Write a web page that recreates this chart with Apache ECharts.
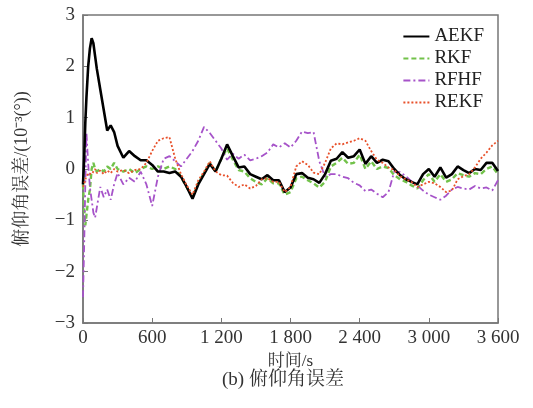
<!DOCTYPE html>
<html><head><meta charset="utf-8">
<script src="https://cdn.jsdelivr.net/npm/echarts@6/dist/echarts.min.js"></script>
<style>html,body{margin:0;padding:0;background:#fff}#c{width:533px;height:408px}</style>
</head><body><div id="c"></div>
<script>
const times = [0,10,20,30,45,60,75,90,105,120,150,180,210,240,270,
  300,350,400,450,500,550,600,650,700,750,800,850,900,950,1000,1050,1100,1150,1200,1250,
  1300,1350,1400,1450,1500,1550,1600,1650,1700,1750,1800,1850,1900,1950,2000,2050,2100,2150,
  2200,2250,2300,2350,2400,2450,2500,2550,2600,2650,2700,2750,2800,2850,2900,2950,3000,3050,
  3100,3150,3200,3250,3300,3350,3400,3450,3500,3550,3600];

const aekf = [-0.3,0.2,0.9,1.4,2.0,2.35,2.55,2.45,2.2,1.95,1.55,1.15,0.75,0.85,0.72,
  0.45,0.22,0.35,0.25,0.17,0.17,0.08,-0.05,-0.05,-0.08,-0.05,-0.15,-0.35,-0.58,-0.3,-0.1,0.1,-0.05,0.2,0.48,
  0.25,0.03,0.05,-0.1,-0.15,-0.2,-0.12,-0.22,-0.22,-0.45,-0.36,-0.1,-0.08,-0.17,-0.2,-0.27,-0.1,0.16,
  0.2,0.33,0.22,0.25,0.38,0.1,0.25,0.12,0.18,0.15,0,-0.12,-0.2,-0.25,-0.3,-0.1,0.0,-0.15,
  0.03,-0.17,-0.1,0.05,-0.02,-0.08,0,-0.02,0.12,0.12,-0.04];

const rkf = [-0.3,-0.8,-1.1,-0.9,-0.6,-0.4,0.0,0.12,0.0,-0.05,0.0,-0.05,0.05,0.0,0.12,
  0.0,-0.05,0.0,-0.08,0.0,0.05,0.0,0.05,0.0,0.05,0.0,-0.15,-0.36,-0.55,-0.28,-0.08,0.12,-0.05,0.2,0.4,
  0.18,-0.02,-0.05,-0.18,-0.25,-0.3,-0.18,-0.28,-0.28,-0.5,-0.45,-0.18,-0.15,-0.22,-0.28,-0.36,-0.25,0.05,
  0.12,0.22,0.1,0.12,0.28,0.0,0.15,0.0,0.05,0.02,-0.12,-0.2,-0.25,-0.32,-0.38,-0.22,-0.1,-0.25,
  -0.1,-0.25,-0.2,-0.08,-0.12,-0.15,-0.08,-0.1,0.0,0.05,-0.1];

const rfhf = [-2.5,-1.5,-0.3,0.7,0.1,-0.36,-0.6,-0.85,-0.95,-0.75,-0.35,-0.55,-0.4,-0.6,-0.3,
  -0.08,-0.3,-0.17,-0.25,-0.05,-0.3,-0.72,-0.15,0.2,0.25,0.15,0.05,0.2,0.35,0.55,0.82,0.7,0.55,0.4,0.18,
  0.3,0.2,0.28,0.17,0.2,0.25,0.32,0.48,0.42,0.5,0.42,0.55,0.73,0.7,0.72,0.15,-0.15,-0.1,
  -0.1,-0.15,-0.18,-0.27,-0.32,-0.43,-0.4,-0.48,-0.55,-0.45,-0.05,-0.06,-0.14,-0.24,-0.32,-0.42,-0.5,-0.55,
  -0.6,-0.52,-0.4,-0.35,-0.38,-0.4,-0.33,-0.38,-0.36,-0.42,-0.22];

const rekf = [-0.35,-0.3,-0.2,-0.15,-0.08,-0.05,-0.1,-0.05,0.0,-0.08,-0.03,-0.1,-0.03,-0.08,0.0,
  -0.05,-0.02,-0.08,-0.02,0.0,0.12,0.35,0.55,0.6,0.62,0.2,-0.1,-0.32,-0.5,-0.22,-0.05,0.15,-0.05,-0.12,-0.13,
  -0.27,-0.35,-0.3,-0.38,-0.33,-0.2,-0.18,-0.25,-0.25,-0.45,-0.35,0.05,0.15,0.08,-0.07,-0.1,0.12,0.4,
  0.5,0.48,0.52,0.55,0.6,0.55,0.35,0.18,0.12,0.03,-0.02,-0.14,-0.2,-0.25,-0.35,-0.3,-0.25,-0.28,
  -0.35,-0.45,-0.42,-0.2,-0.14,-0.1,0.03,0.2,0.32,0.46,0.55];

const seriesNames = ['AEKF','RKF','RFHF','REKF'];
const xName = '时间/s';
const yName = '俯仰角误差/(10⁻³(°))';
const caption = '(b) 俯仰角误差';

const FONT = "'Liberation Serif','Noto Serif CJK SC','Noto Sans CJK SC',serif";
const pts = arr => times.map((t, i) => [t, arr[i]]);
const fmtX = v => v >= 1000 ? Math.floor(v / 1000) + ' ' + String(v % 1000).padStart(3, '0') : String(v);
const fmtY = v => String(v).replace('-', '\u2212');

const styles = [
  {color:'#000000', width:2.6, type:'solid', z:4},
  {color:'#72c24a', width:2.4, type:[5,3], z:2},
  {color:'#a653c9', width:1.8, type:[7,3,2,3], z:3},
  {color:'#e8502a', width:1.8, type:[2,2], z:5}
];
const datas = [aekf, rkf, rfhf, rekf];

const chart = echarts.init(document.getElementById('c'), null, {renderer:'canvas'});
chart.setOption({
  animation:false,
  backgroundColor:'#fff',
  textStyle:{fontFamily:FONT},
  grid:{left:83, top:15, right:35, bottom:85, show:true, borderColor:'#777', borderWidth:1.5},
  legend:{
    orient:'vertical', right:44, top:22, itemWidth:26, itemHeight:12, itemGap:3,
    itemStyle:{opacity:0},
    textStyle:{fontFamily:FONT, fontSize:19, color:'#222'},
    data:seriesNames
  },
  xAxis:{
    type:'value', min:0, max:3600, interval:600,
    name:xName, nameLocation:'middle', nameGap:29,
    nameTextStyle:{fontFamily:FONT, fontSize:17, color:'#333'},
    axisLine:{show:true, onZero:false, lineStyle:{color:'#777', width:1.5}},
    axisTick:{show:true, inside:true, length:5, lineStyle:{color:'#777'}},
    axisLabel:{formatter:fmtX, fontFamily:FONT, fontSize:19, color:'#333', margin:6, showMaxLabel:true},
    splitLine:{show:false}
  },
  yAxis:{
    type:'value', min:-3, max:3, interval:1,
    name:yName, nameLocation:'middle', nameGap:52,
    nameTextStyle:{fontFamily:FONT, fontSize:18, color:'#333'},
    axisLine:{show:true, onZero:false, lineStyle:{color:'#777', width:1.5}},
    axisTick:{show:true, inside:true, length:5, lineStyle:{color:'#777'}},
    axisLabel:{formatter:fmtY, fontFamily:FONT, fontSize:19, color:'#333', margin:8},
    splitLine:{show:false}
  },
  graphic:[{
    type:'text', x:283, y:380,
    style:{text:caption, fontFamily:FONT, fontSize:19, fill:'#333', align:'center', verticalAlign:'middle'}
  }],
  series: seriesNames.map((n, i) => ({
    name:n, type:'line', data:pts(datas[i]), showSymbol:false, symbol:'none',
    color:styles[i].color, z:styles[i].z,
    lineStyle:{color:styles[i].color, width:styles[i].width, type:styles[i].type}
  }))
});
</script></body></html>
